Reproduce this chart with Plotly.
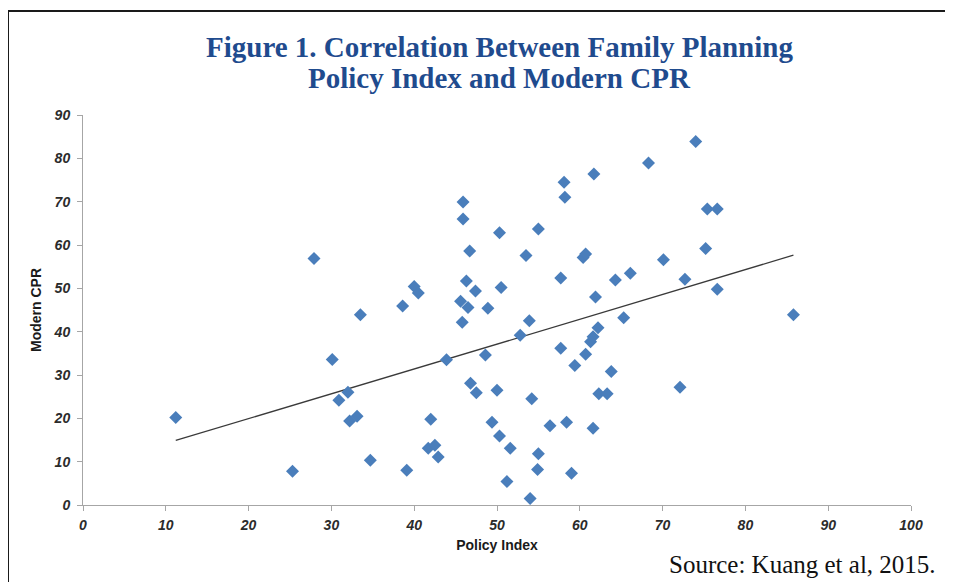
import numpy as np
import plotly.graph_objects as go

# Data
policy_index = [11.2, 25.3, 27.9, 30.1, 30.9, 32.0, 32.2, 33.1, 33.5, 34.7,
                38.6, 39.1, 40.0, 40.5, 41.7, 42.0, 42.5, 42.9, 43.9, 45.6,
                45.8, 45.9, 45.9, 46.3, 46.5, 46.7, 46.8, 47.4, 47.5, 48.6,
                48.9, 49.4, 50.0, 50.3, 50.3, 50.5, 51.2, 51.6, 52.8, 53.5,
                53.9, 54.0, 54.2, 54.9, 55.0, 55.0, 56.4, 57.7, 57.7, 58.1,
                58.2, 58.4, 59.0, 59.4, 60.4, 60.7, 60.7, 61.3, 61.6, 61.6,
                61.7, 61.9, 62.2, 62.3, 63.3, 63.8, 64.3, 65.3, 66.1, 68.3,
                70.1, 72.1, 72.7, 74.0, 75.2, 75.4, 76.6, 76.6, 85.8]
modern_cpr = [20.2, 7.8, 56.9, 33.6, 24.2, 26.0, 19.4, 20.5, 43.9, 10.3,
              45.9, 8.0, 50.4, 48.9, 13.1, 19.8, 13.8, 11.1, 33.5, 47.0,
              42.2, 69.9, 66.0, 51.7, 45.6, 58.6, 28.1, 49.4, 25.9, 34.6,
              45.4, 19.1, 26.5, 62.8, 15.9, 50.2, 5.4, 13.1, 39.2, 57.6,
              42.5, 1.5, 24.5, 8.2, 11.8, 63.7, 18.3, 52.4, 36.2, 74.5,
              71.0, 19.1, 7.3, 32.2, 57.1, 57.9, 34.8, 37.7, 38.8, 17.7,
              76.4, 48.0, 40.9, 25.7, 25.7, 30.8, 51.9, 43.2, 53.5, 78.9,
              56.6, 27.2, 52.1, 83.9, 59.2, 68.3, 68.3, 49.8, 43.9]
x_ticks = [0, 10, 20, 30, 40, 50, 60, 70, 80, 90, 100]
y_ticks = [0, 10, 20, 30, 40, 50, 60, 70, 80, 90]

# Linear trend line
slope, intercept = np.polyfit(policy_index, modern_cpr, 1)
trend_x = [min(policy_index), max(policy_index)]
trend_y = [slope * v + intercept for v in trend_x]

fig = go.Figure()
fig.add_trace(go.Scatter(x=trend_x, y=trend_y, mode="lines",
                         line=dict(color="#3a3a3a", width=1.3),
                         hoverinfo="skip", showlegend=False))
fig.add_trace(go.Scatter(x=policy_index, y=modern_cpr, mode="markers",
                         marker=dict(symbol="diamond", size=10, color="#4a7ebb",
                                     line=dict(width=0)),
                         showlegend=False))

# The page body adds an 8px offset; lay the figure out in window pixels.
O = 8
W, H = 953 - O, 582 - O
L, T = 83 - O, 115 - O
R = (953 - O) - (911 - O)
B = (582 - O) - (505 - O)
pw, ph = W - L - R, H - T - B


def px_x(p):  # window pixel -> paper x
    return (p - O - L) / pw


def px_y(p):  # window pixel -> paper y
    return (H - B - (p - O)) / ph


tickfont = dict(family="Liberation Sans, Arial", size=14, color="#2b2b2b",
                weight="bold", style="italic")
axis_common = dict(showgrid=False, zeroline=False, showline=True,
                   linecolor="#a6a6a6", linewidth=1, ticks="outside",
                   ticklen=5, tickcolor="#a6a6a6", tickfont=tickfont,
                   automargin=False)
title_font = dict(family="Liberation Sans, Arial", size=14, color="#1a1a1a",
                  weight="bold")

fig.update_layout(
    width=W, height=H,
    margin=dict(l=L, r=R, t=T, b=B, autoexpand=False),
    paper_bgcolor="white", plot_bgcolor="white",
    xaxis=dict(range=[0, 100], tickvals=x_ticks, **axis_common,
               ticklabelstandoff=2,
               title=dict(text="Policy Index", standoff=8, font=title_font)),
    yaxis=dict(range=[0, 90], tickvals=y_ticks, **axis_common,
               ticklabelstandoff=4,
               title=dict(text="Modern CPR", standoff=8, font=title_font)),
    shapes=[dict(type="rect", xref="paper", yref="paper",
                 x0=px_x(8), x1=px_x(947), y0=px_y(620), y1=px_y(11),
                 line=dict(color="#1a1a1a", width=2), fillcolor="rgba(0,0,0,0)",
                 layer="above")],
    annotations=[
        dict(text="Figure 1. Correlation Between Family Planning", xref="paper",
             yref="paper", x=px_x(499), y=px_y(47), xanchor="center",
             yanchor="middle", showarrow=False,
             font=dict(family="Liberation Serif, Times New Roman", size=29,
                       color="#1f4b8e", weight="bold")),
        dict(text="Policy Index and Modern CPR", xref="paper",
             yref="paper", x=px_x(499), y=px_y(78), xanchor="center",
             yanchor="middle", showarrow=False,
             font=dict(family="Liberation Serif, Times New Roman", size=29,
                       color="#1f4b8e", weight="bold")),
        dict(text="Source: Kuang et al, 2015.", xref="paper", yref="paper",
             x=px_x(938), y=px_y(564), xanchor="right", yanchor="middle",
             showarrow=False,
             font=dict(family="Liberation Serif, Times New Roman", size=25,
                       color="#111111")),
    ],
)

fig.write_html("out.html")
